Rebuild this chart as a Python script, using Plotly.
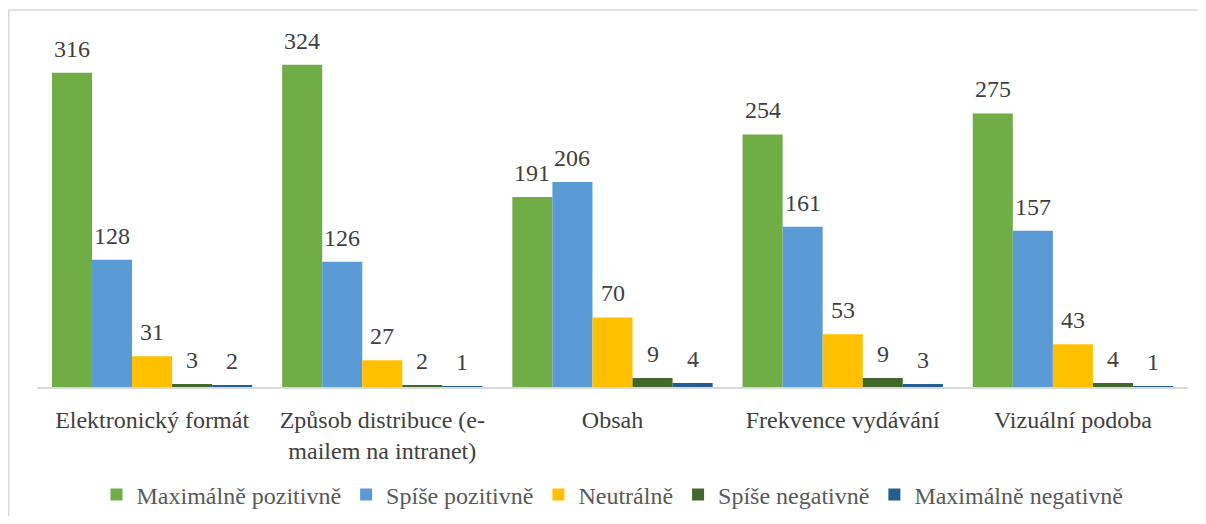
import plotly.graph_objects as go

categories = ["Elektronický formát", "Způsob distribuce (e-<br>mailem na intranet)", "Obsah",
              "Frekvence vydávání", "Vizuální podoba"]
series_names = ["Maximálně pozitivně", "Spíše pozitivně", "Neutrálně", "Spíše negativně", "Maximálně negativně"]
max_poz = [316, 324, 191, 254, 275]
spise_poz = [128, 126, 206, 161, 157]
neutral = [31, 27, 70, 53, 43]
spise_neg = [3, 2, 9, 9, 4]
max_neg = [2, 1, 4, 3, 1]
colors = ["#70AD47", "#5B9BD5", "#FFC000", "#43682B", "#255E91"]

values = [max_poz, spise_poz, neutral, spise_neg, max_neg]
FONT = "Liberation Serif"
txt_color = "#404040"

# page has an 8px body margin; figure sized to fit inside the 1206x524 window
W, H = 1190, 508
ML, MR, MT, MB = 29, 10, 12, 129
BARGAP = 0.13
n_series = len(series_names)
plot_w = W - ML - MR
plot_h = H - MT - MB
cat_px = plot_w / len(categories)
bar_px = cat_px * (1 - BARGAP) / n_series

fig = go.Figure()
annotations = []
for i, (name, vals, col) in enumerate(zip(series_names, values, colors)):
    fig.add_trace(go.Bar(
        x=categories, y=vals, name=name, marker_color=col, marker_line_width=0,
    ))
    for c, v in zip(categories, vals):
        annotations.append(dict(
            x=c, y=v, xref="x", yref="y", text=str(v), showarrow=False,
            xshift=(i - (n_series - 1) / 2) * bar_px, yshift=9, yanchor="bottom",
            font=dict(family=FONT, size=24, color=txt_color),
        ))

# frame lines kept inside the figure so the page does not overflow
bx0 = (0.75 - ML) / plot_w
bx1 = (plot_w + MR) / plot_w
by1 = (plot_h + MT - 2) / plot_h
by0 = -MB / plot_h
border = dict(color="#D9D9D9", width=1.5)
fig.update_layout(
    width=W, height=H,
    barmode="group", bargap=BARGAP, bargroupgap=0,
    margin=dict(l=ML, r=MR, t=MT, b=MB, autoexpand=False),
    plot_bgcolor="white", paper_bgcolor="white",
    font=dict(family=FONT, color=txt_color),
    showlegend=True,
    legend=dict(orientation="h", x=0.5, xanchor="center", xref="paper",
                y=21 / H, yanchor="middle", yref="container",
                font=dict(family=FONT, size=24, color="#595959"),
                itemwidth=30, traceorder="normal"),
    annotations=annotations,
    shapes=[
        dict(type="line", xref="paper", yref="paper", x0=bx0, x1=bx1, y0=by1, y1=by1,
             line=border, layer="below"),
        dict(type="line", xref="paper", yref="paper", x0=bx0, x1=bx0, y0=by1, y1=by0,
             line=border, layer="below"),
    ],
)
fig.update_xaxes(showline=True, linecolor="#D9D9D9", linewidth=1.5, ticks="", automargin=False,
                 tickfont=dict(family=FONT, size=24, color=txt_color), ticklabelstandoff=10)
fig.update_yaxes(range=[0, 369], showgrid=False, showticklabels=False, zeroline=False, showline=False,
                 automargin=False)

fig.write_html("out.html")
